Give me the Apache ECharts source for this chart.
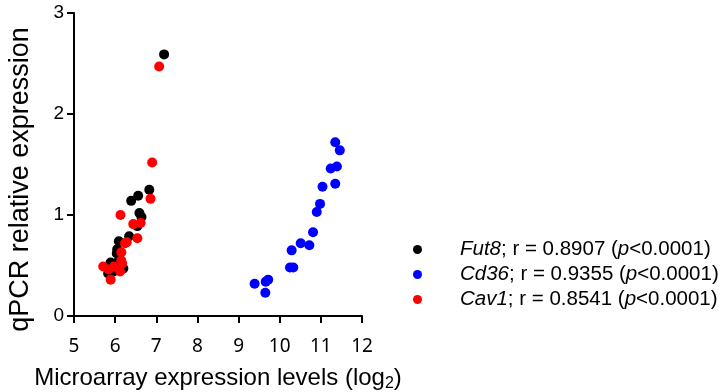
<!DOCTYPE html>
<html>
<head>
<meta charset="utf-8">
<script src="https://cdn.jsdelivr.net/npm/echarts@6/dist/echarts.min.js"></script>
<style>
  html, body { margin: 0; padding: 0; background: #fff; }
  #chart { width: 719px; height: 392px; }
</style>
</head>
<body>
<div id="chart"></div>
<script>
// Fut8 (black)
const fut8 = [
  [7.19, 2.59], [6.83, 1.25], [6.39, 1.14], [6.56, 1.19], [6.59, 1.02],
  [6.64, 0.98], [6.54, 0.89], [6.34, 0.79], [6.09, 0.74], [6.05, 0.66],
  [6.04, 0.62], [6.09, 0.55], [5.89, 0.53], [6.20, 0.47], [5.83, 0.42],
  [5.96, 0.44]
]
// Cd36 (blue)
const cd36 = [
  [11.35, 1.72], [11.46, 1.64], [11.24, 1.46], [11.39, 1.48], [11.35, 1.31],
  [11.04, 1.28], [10.98, 1.11], [10.90, 1.03], [10.81, 0.83], [10.51, 0.72],
  [10.72, 0.70], [10.29, 0.65], [10.25, 0.48], [10.33, 0.48], [9.72, 0.36],
  [9.66, 0.34], [9.39, 0.32], [9.65, 0.23]
]
// Cav1 (red)
const cav1 = [
  [7.07, 2.47], [6.90, 1.52], [6.86, 1.16], [6.13, 1.00], [6.44, 0.91],
  [6.62, 0.92], [6.54, 0.77], [6.28, 0.73], [6.24, 0.72], [6.15, 0.63],
  [6.15, 0.55], [6.17, 0.52], [5.71, 0.49], [5.84, 0.46], [5.97, 0.49],
  [6.12, 0.44], [5.89, 0.36]
]
const seriesNames = ['Fut8', 'Cd36', 'Cav1']
const rValues = ['0.8907', '0.9355', '0.8541']
const colors = ['#000000', '#0000ff', '#ff0000']

const chart = echarts.init(document.getElementById('chart'))
const font = 'Liberation Sans, Arial, sans-serif'
const option = {
  animation: false,
  grid: { left: 74, right: 357, top: 13, bottom: 76, outerBoundsMode: 'none', containLabel: false },
  xAxis: {
    type: 'value',
    min: 5, max: 12, interval: 1,
    name: '{a|Microarray expression levels (log}{s|2}{a|)}',
    nameLocation: 'middle',
    nameGap: 48,
    nameTextStyle: {
      rich: {
        a: { fontFamily: font, fontSize: 24, color: '#000' },
        s: { fontFamily: font, fontSize: 16, color: '#000', padding: [12, 0, 0, 0] }
      }
    },
    axisLine: { lineStyle: { color: '#000', width: 2 } },
    axisTick: { inside: false, length: 7, lineStyle: { color: '#000', width: 2 } },
    axisLabel: { color: '#000', fontSize: 19, fontFamily: 'Noto Sans, sans-serif', margin: 21 },
    splitLine: { show: false }
  },
  yAxis: {
    type: 'value',
    min: 0, max: 3, interval: 1,
    name: 'qPCR relative expression',
    nameLocation: 'middle',
    nameGap: 40,
    nameTextStyle: { fontFamily: font, fontSize: 27, color: '#000', padding: [0, 0, 0, -30] },
    axisLine: { show: true, lineStyle: { color: '#000', width: 2 } },
    axisTick: { show: true, length: 7, lineStyle: { color: '#000', width: 2 } },
    axisLabel: { color: '#000', fontSize: 19, fontFamily: font, margin: 10 },
    splitLine: { show: false }
  },
  legend: {
    orient: 'vertical',
    left: 408,
    top: 234,
    itemGap: 4,
    itemWidth: 9,
    itemHeight: 9,
    icon: 'circle',
    data: seriesNames,
    formatter: name => {
      const i = seriesNames.indexOf(name)
      return `{g|${name}}{n|; r = ${rValues[i]} (}{p|p}{n|<0.0001)}`
    },
    textStyle: {
      rich: {
        g: { fontFamily: font, fontStyle: 'italic', fontSize: 20.5, color: '#000', padding: [0, 0, 0, 33] },
        n: { fontFamily: font, fontSize: 20.5, color: '#000' },
        p: { fontFamily: font, fontStyle: 'italic', fontSize: 20.5, color: '#000' }
      }
    }
  },
  series: [
    { name: 'Fut8', type: 'scatter', data: fut8, symbolSize: 10, itemStyle: { color: colors[0], opacity: 1 }, z: 2 },
    { name: 'Cd36', type: 'scatter', data: cd36, symbolSize: 10, itemStyle: { color: colors[1], opacity: 1 }, z: 3 },
    { name: 'Cav1', type: 'scatter', data: cav1, symbolSize: 10, itemStyle: { color: colors[2], opacity: 1 }, z: 4 }
  ]
}
chart.setOption(option)
</script>
</body>
</html>
